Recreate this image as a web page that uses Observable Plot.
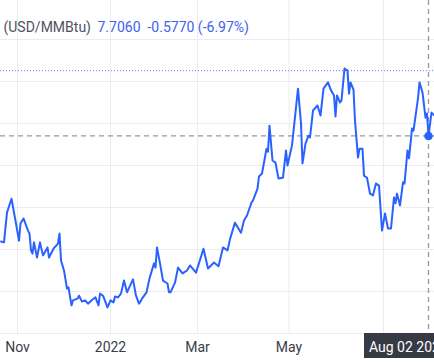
<!DOCTYPE html>
<html>
<head>
<meta charset="utf-8">
<script src="https://cdn.jsdelivr.net/npm/d3@7"></script>
<script src="https://cdn.jsdelivr.net/npm/@observablehq/plot@0.6"></script>
<style>
  html, body { margin: 0; padding: 0; background: #ffffff; }
  svg { display: block; }
</style>
</head>
<body>
<div id="chart"></div>
<script>
// Natural gas front-month price (USD/MMBtu)
const dates = [
  "2021-10-21","2021-10-23","2021-10-25","2021-10-28","2021-10-31","2021-11-02","2021-11-03","2021-11-05",
  "2021-11-08","2021-11-09","2021-11-10","2021-11-11","2021-11-12","2021-11-14","2021-11-16","2021-11-18",
  "2021-11-21","2021-11-22","2021-11-25","2021-11-28","2021-11-29","2021-11-30","2021-12-02","2021-12-04",
  "2021-12-05","2021-12-07","2021-12-08","2021-12-11","2021-12-12","2021-12-14","2021-12-16","2021-12-18",
  "2021-12-21","2021-12-23","2021-12-25","2021-12-26","2021-12-28","2021-12-31","2022-01-02","2022-01-04",
  "2022-01-05","2022-01-07","2022-01-09","2022-01-11","2022-01-13","2022-01-17","2022-01-19","2022-01-21",
  "2022-01-23","2022-01-26","2022-01-28","2022-01-31","2022-02-01","2022-02-02","2022-02-04","2022-02-06",
  "2022-02-09","2022-02-10","2022-02-11","2022-02-14","2022-02-16","2022-02-19","2022-02-22","2022-02-24",
  "2022-02-28","2022-03-03","2022-03-05","2022-03-08","2022-03-12","2022-03-15","2022-03-18","2022-03-21",
  "2022-03-23","2022-03-26","2022-03-30","2022-04-01","2022-04-03","2022-04-06","2022-04-07","2022-04-10",
  "2022-04-11","2022-04-13","2022-04-16","2022-04-17","2022-04-18","2022-04-20","2022-04-22","2022-04-24",
  "2022-04-27","2022-04-29","2022-04-30","2022-05-03","2022-05-07","2022-05-09","2022-05-10","2022-05-12",
  "2022-05-14","2022-05-15","2022-05-17","2022-05-20","2022-05-22","2022-05-24","2022-05-27","2022-05-29",
  "2022-05-31","2022-06-01","2022-06-02","2022-06-04","2022-06-05","2022-06-07","2022-06-09","2022-06-10",
  "2022-06-11","2022-06-13","2022-06-14","2022-06-16","2022-06-17","2022-06-19","2022-06-20","2022-06-22",
  "2022-06-24","2022-06-26","2022-06-28","2022-06-30","2022-07-02","2022-07-04","2022-07-06","2022-07-08",
  "2022-07-10","2022-07-11","2022-07-12","2022-07-14","2022-07-16","2022-07-17","2022-07-19","2022-07-20",
  "2022-07-22","2022-07-23","2022-07-26","2022-07-27","2022-07-29","2022-07-31","2022-08-01","2022-08-02",
  "2022-08-04","2022-08-06"
];
const prices = [
  5.19,5.17,5.88,6.21,5.62,5.21,5.62,5.74,
  5.45,5.38,4.98,4.90,5.17,4.81,5.17,4.86,
  5.05,4.81,5.02,5.14,5.38,4.74,4.50,4.07,
  4.10,3.67,3.79,3.83,3.90,3.76,3.79,3.71,
  3.81,3.86,3.67,3.95,3.90,3.62,3.79,3.74,
  3.88,3.86,3.95,4.26,3.98,4.29,3.90,3.71,
  3.83,3.98,4.31,4.67,4.57,5.05,4.67,4.26,
  4.19,3.98,3.98,4.21,4.57,4.43,4.50,4.62,
  4.45,4.79,5.02,4.55,4.69,4.60,5.05,4.98,
  5.29,5.64,5.40,5.69,5.81,6.12,6.17,6.45,
  6.74,6.81,7.40,7.33,7.95,7.12,7.07,6.69,
  6.71,7.36,7.00,7.48,8.83,8.00,7.05,7.52,
  7.71,7.67,8.31,8.43,8.19,8.83,8.98,8.79,
  8.67,8.17,8.67,8.50,8.55,9.31,9.26,8.71,
  8.98,8.81,8.07,7.19,7.40,7.40,6.76,6.71,
  6.33,6.29,6.57,6.52,5.45,5.86,5.50,5.50,
  6.24,6.10,6.33,6.05,6.60,6.57,7.36,7.17,
  7.88,7.83,8.60,8.98,8.74,8.14,8.24,7.706,
  8.26,8.19
];

// Axis ticks
const tickDates = ["2021-11-01","2022-01-02","2022-03-01","2022-05-01","2022-07-03"];
const tickLabels = ["Nov","2022","Mar","May",""];
const priceTicks = [3,4,5,6,7,8,9,10];

// Header / crosshair
const unitLabel = "(USD/MMBtu)";
const quoteLabel = "7.7060  -0.5770 (-6.97%)";
const crossDate = "2022-08-02";
const crossPrice = 7.706;
const crossLabel = "Aug 02 2022";
const levelLine = 9.26;

const parse = s => new Date(s + "T00:00:00Z");
const data = dates.map((d, i) => ({date: parse(d), price: prices[i]}));
const tDates = tickDates.map(parse);
const cDate = parse(crossDate);

const blue = "#2962ff";
const grid = "#ececef";
const font = "Roboto, 'Open Sans', sans-serif";

const chart = Plot.plot({
  width: 434,
  height: 362,
  marginLeft: 0,
  marginRight: 0,
  marginTop: 0,
  marginBottom: 29,
  style: {fontFamily: font, background: "#ffffff", overflow: "visible"},
  x: {type: "utc", domain: [new Date(Date.UTC(2021, 9, 20, 16)), new Date(Date.UTC(2022, 7, 6))], axis: null},
  y: {domain: [3, 10.93], axis: null},
  marks: [
    Plot.gridY(priceTicks, {stroke: grid, strokeOpacity: 1}),
    Plot.gridX(tDates, {stroke: grid, strokeOpacity: 1}),
    Plot.axisX(tDates.slice(0, 4), {
      tickSize: 0, tickPadding: 9, fontSize: 14, fill: "#3a3d46",
      tickFormat: d => tickLabels[tDates.findIndex(t => +t === +d)]
    }),
    Plot.ruleY([levelLine], {stroke: blue, strokeWidth: 1, strokeDasharray: "1,2", strokeOpacity: 0.8}),
    Plot.ruleY([crossPrice], {stroke: "#9598a1", strokeWidth: 1.3, strokeDasharray: "5,4"}),
    Plot.ruleX([cDate], {stroke: "#9598a1", strokeWidth: 1.3, strokeDasharray: "5,4"}),
    Plot.line(data, {x: "date", y: "price", stroke: blue, strokeWidth: 2, strokeLinejoin: "round"}),
    Plot.dot([{date: cDate, price: crossPrice}], {x: "date", y: "price", r: 3.5, fill: blue, stroke: blue}),
    Plot.text([unitLabel], {text: d => d, frameAnchor: "top-left", dx: 3, dy: 22, fontSize: 14, fill: "#50535e", textAnchor: "start"}),
    Plot.text([quoteLabel], {text: d => d, frameAnchor: "top-left", dx: 97, dy: 22, fontSize: 14, fill: "#3d63f0", textAnchor: "start"})
  ]
});

// crosshair date label box on the time axis
const xs = chart.scale("x"), ys = chart.scale("y");
const cx = xs.apply(cDate);
const boxTop = ys.apply(3);
const svg = d3.select(chart);
svg.append("rect")
  .attr("x", cx - 64).attr("y", boxTop).attr("width", 140).attr("height", 25)
  .attr("fill", "#363a45");
svg.append("text")
  .attr("x", cx - 59).attr("y", boxTop + 19)
  .attr("text-anchor", "start")
  .attr("fill", "#ffffff").attr("font-size", 14).attr("font-family", font)
  .text(crossLabel);

document.getElementById("chart").appendChild(chart);
</script>
</body>
</html>
